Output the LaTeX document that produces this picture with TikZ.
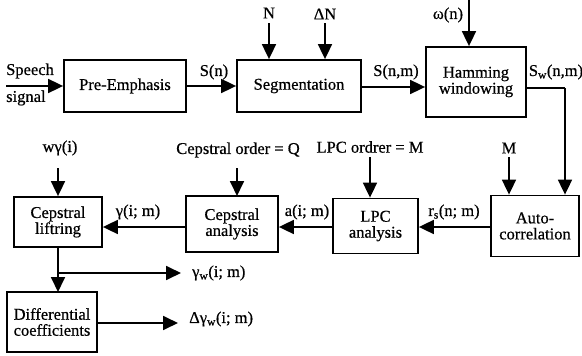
\documentclass[tikz,border=0pt]{standalone}
\usepackage{fontspec}
\setmainfont{Liberation Serif}[FakeBold=0.6]
\usetikzlibrary{arrows.meta}
\begin{document}
\begin{tikzpicture}[x=1pt,y=-1pt,
  every node/.style={font=\fontsize{16.5}{18}\selectfont, inner sep=0pt},
  blk/.style={draw, line width=1.8pt, align=center},
  arr/.style={line width=1.8pt, -{Triangle[length=15pt,width=14pt]}},
  ln/.style={line width=1.8pt},
  lbl/.style={}]
\useasboundingbox (0,0) rectangle (582,356);
% boxes
\node[blk, minimum width=122pt, minimum height=52pt] (pre) at (125,86) {Pre-Emphasis};
\node[blk, minimum width=124pt, minimum height=52pt] (seg) at (299,86) {Segmentation};
\node[blk, minimum width=100pt, minimum height=70pt] (ham) at (476,82) {Hamming\\[-2pt]windowing};
\node[blk, minimum width=88pt, minimum height=61pt] (auto) at (535,226) {Auto-\\[-2pt]correlation};
\node[blk, minimum width=85pt, minimum height=55pt] (lpc) at (375.5,226) {LPC\\[-2pt]analysis};
\node[blk, minimum width=92pt, minimum height=56pt] (cep) at (232,224) {Cepstral\\[-2pt]analysis};
\node[blk, minimum width=88pt, minimum height=50pt] (lift) at (58,222) {Cepstral\\[-2pt]liftring};
\node[blk, minimum width=90pt, minimum height=60pt] (diff) at (52,322) {Differential\\[-2pt]coefficients};
% labels
\node[lbl, anchor=west] (sp1) at (6,71) {Speech};
\node[lbl, anchor=west] (sp2) at (6,98) {signal};
\coordinate (sin) at (6,86);
\node[lbl] (sn) at (214,72) {S(n)};
\node[lbl] (nN) at (269,13) {N};
\node[lbl] (dN) at (325,14) {ΔN};
\node[lbl] (wn) at (448,15) {ω(n)};
\node[lbl] (snm) at (396,72) {S(n,m)};
\node[lbl] (swnm) at (556,72) {S\textsubscript{w}(n,m)};
\node[lbl] (mM) at (509,148) {M};
\node[lbl] (lpco) at (370,147) {LPC ordrer = M};
\node[lbl] (rs) at (454,212) {r\textsubscript{s}(n; m)};
\node[lbl] (aim) at (307,212) {a(i; m)};
\node[lbl] (cepo) at (238,150) {Cepstral order = Q};
\node[lbl] (wg) at (60,148) {wγ(i)};
\node[lbl] (gim) at (138,212) {γ(i; m)};
\node[lbl, anchor=west] (gw) at (192,273) {γ\textsubscript{w}(i; m)};
\node[lbl, anchor=west] (dgw) at (189,319) {Δγ\textsubscript{w}(i; m)};
\coordinate (wtop) at (469,0);
\coordinate (swc) at (565,88);
\coordinate (br) at (58,273);
\coordinate (gwend) at (181,273);
\coordinate (dgend) at (178,323);
% connectors
\draw[arr] (sin) -- (sin -| pre.west);
\draw[arr] (pre.east) -- (seg.west);
\draw[arr] (nN.south |- 0,23) -- (nN.south |- seg.north);
\draw[arr] (dN.south |- 0,23) -- (dN.south |- seg.north);
\draw[arr] (wtop) -- (wtop |- ham.north);
\draw[arr] (seg.east |- 0,87) -- (ham.west |- 0,87);
\draw[ln] (ham.east |- swc) -- (swc);
\draw[arr] (swc) -- (swc |- auto.north);
\draw[arr] (mM.south |- 0,157) -- (mM.south |- auto.north);
\draw[arr] (lpco.south |- 0,157) -- (lpco.south |- lpc.north);
\draw[arr] (auto.west |- 0,227) -- (lpc.east |- 0,227);
\draw[arr] (lpc.west |- 0,227) -- (cep.east |- 0,227);
\draw[arr] (cep.west |- 0,227) -- (lift.east |- 0,227);
\draw[arr] (237,168) -- (237,196);
\draw[arr] (58,168) -- (lift.north);
\draw[arr] (lift.south) -- (58,292);
\draw[arr] (br) -- (gwend);
\draw[arr] (diff.east |- dgend) -- (dgend);
\end{tikzpicture}
\end{document}
